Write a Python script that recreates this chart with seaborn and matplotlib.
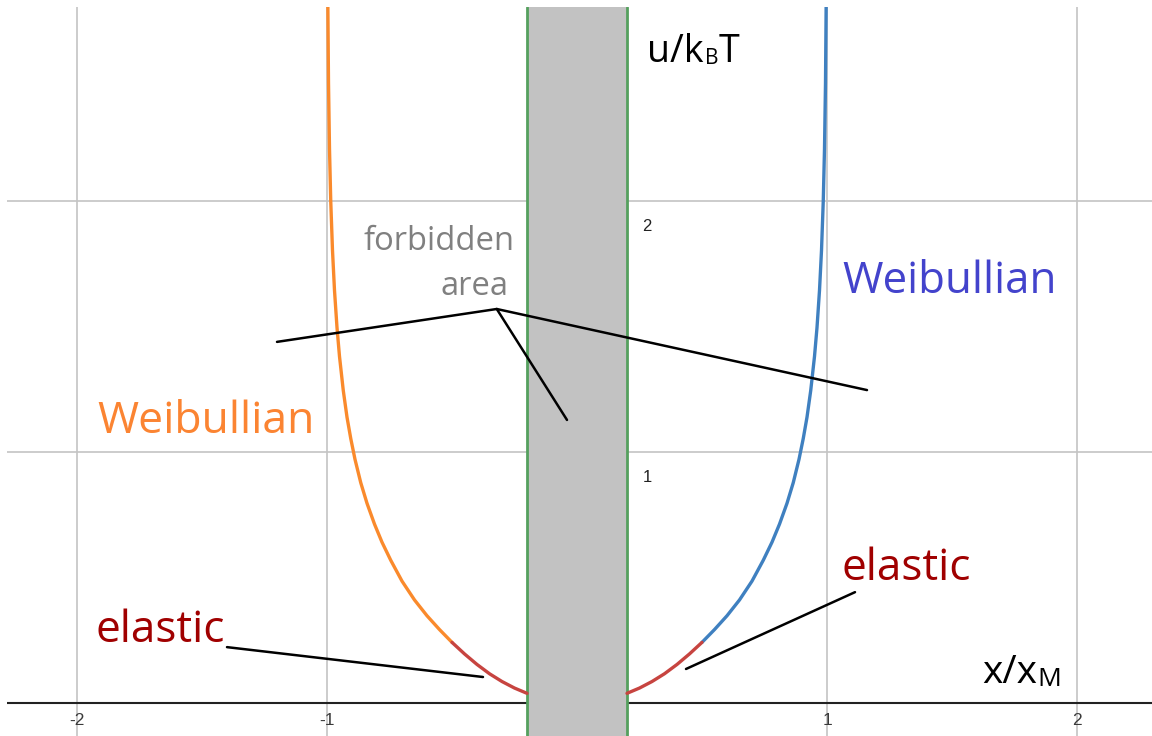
import matplotlib
matplotlib.use("Agg")
import matplotlib.pyplot as plt
import seaborn as sns
import pandas as pd

# Potential branches, right half (|x|/x_M, u/k_BT); left half is the mirror image
elastic_x = [0.20, 0.25, 0.30, 0.35, 0.40, 0.45, 0.50]
elastic_u = [0.040, 0.061, 0.087, 0.118, 0.155, 0.197, 0.243]

weib_x = [0.50, 0.55, 0.60, 0.65, 0.70, 0.745, 0.78, 0.81, 0.84, 0.865,
          0.888, 0.905, 0.92, 0.935, 0.95, 0.96, 0.97, 0.978, 0.985, 0.99,
          0.994, 0.997]
weib_u = [0.243, 0.294, 0.349, 0.412, 0.487, 0.570, 0.642, 0.714, 0.797, 0.879,
          0.972, 1.055, 1.140, 1.247, 1.382, 1.497, 1.645, 1.804, 2.000, 2.209,
          2.472, 2.830]

# Forbidden region half-width
forbid_half = 0.2

# Axis ticks
xticks = [-2, -1, 1, 2]
yticks = [1, 2]

sns.set_theme(style="white")
plt.rcParams["font.family"] = ["Open Sans", "DejaVu Sans"]

fig = plt.figure(figsize=(11.52, 7.36), dpi=100)
ax = fig.add_axes([7 / 1152, 0, 1145 / 1152, 729 / 736])
ax.set_xlim(-2.28, 2.30)
ax.set_ylim(-0.130, 2.774)
for s in ax.spines.values():
    s.set_visible(False)
ax.set_xticks([])
ax.set_yticks([])

grid_c = "#c4c4c4"
for t in xticks:
    ax.axvline(t, color=grid_c, lw=1.2, zorder=0.5)
for t in yticks:
    ax.axhline(t, color=grid_c, lw=1.2, zorder=0.5)
ax.axhline(0, color="#222222", lw=1.5, zorder=1)

# Forbidden band
ax.axvspan(-forbid_half, forbid_half, color="#c2c2c2", lw=0, zorder=2)
for xv in (-forbid_half, forbid_half):
    ax.axvline(xv, color="#55a05e", lw=2.0, zorder=3)

red = "#c74440"
blue = "#3f80c0"
orange = "#fa8a2c"

right_el = pd.DataFrame({"x": elastic_x, "u": elastic_u})
left_el = pd.DataFrame({"x": [-v for v in elastic_x], "u": elastic_u})
right_w = pd.DataFrame({"x": weib_x, "u": weib_u})
left_w = pd.DataFrame({"x": [-v for v in weib_x], "u": weib_u})

sns.lineplot(data=right_w, x="x", y="u", color=blue, lw=2.4, ax=ax, zorder=4)
sns.lineplot(data=left_w, x="x", y="u", color=orange, lw=2.4, ax=ax, zorder=4)
sns.lineplot(data=right_el, x="x", y="u", color=red, lw=2.4, ax=ax, zorder=5)
sns.lineplot(data=left_el, x="x", y="u", color=red, lw=2.4, ax=ax, zorder=5)
ax.set_xlabel("")
ax.set_ylabel("")

# Tick labels
for t in xticks:
    ax.text(t, -0.068, f"{t}", ha="center", va="center", fontsize=12.5,
            color="#3a3a3a", family="Liberation Sans", zorder=6)
for t in yticks:
    ax.text(0.262, t - 0.10, f"{t}", ha="left", va="center", fontsize=12,
            color="#222222", family="Liberation Sans", zorder=6)

# Annotation leader lines
lk = dict(color="black", lw=1.8, zorder=6, solid_capstyle="round")
apex = (-0.321, 1.571)
ax.plot([-1.20, apex[0], 1.16], [1.44, apex[1], 1.248], **lk)
ax.plot([apex[0], -0.04], [apex[1], 1.129], **lk)
ax.plot([-1.40, -0.376], [0.224, 0.105], **lk)
ax.plot([1.112, 0.436], [0.443, 0.137], **lk)

# Labels
ax.text(-0.248, 1.806, "forbidden", ha="right", va="baseline",
        fontsize=23.6, color="#808080", zorder=7)
ax.text(-0.276, 1.627, "area", ha="right", va="baseline",
        fontsize=23.6, color="#808080", zorder=7)
ax.text(-1.92, 1.077, "Weibullian", ha="left", va="baseline",
        fontsize=32, color="#fb8432", zorder=7)
ax.text(1.06, 1.635, "Weibullian", ha="left", va="baseline",
        fontsize=31.6, color="#4343cc", zorder=7)
ax.text(-1.928, 0.244, "elastic", ha="left", va="baseline",
        fontsize=31.8, color="#a00000", zorder=7)
ax.text(1.06, 0.491, "elastic", ha="left", va="baseline",
        fontsize=31.8, color="#a00000", zorder=7)

# Axis names with small subscripts
ax.text(0.28, 2.555, "u/k", ha="left", va="baseline", fontsize=27,
        color="black", zorder=7)
ax.text(0.513, 2.547, "B", ha="left", va="baseline", fontsize=15,
        color="black", zorder=7)
ax.text(0.566, 2.555, "T", ha="left", va="baseline", fontsize=27,
        color="black", zorder=7)
ax.text(1.62, 0.081, "x/x", ha="left", va="baseline", fontsize=28,
        color="black", zorder=7)
ax.text(1.84, 0.069, "M", ha="left", va="baseline", fontsize=19,
        color="black", zorder=7)

fig.savefig("out.png", dpi=100, facecolor="white")
